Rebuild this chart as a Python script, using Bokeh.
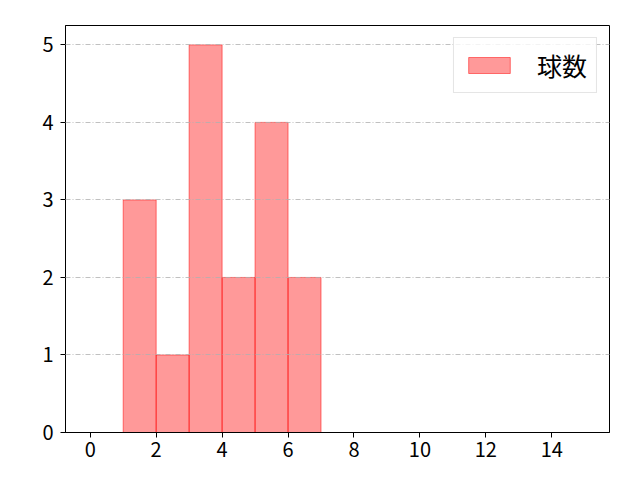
from bokeh.plotting import figure
from bokeh.models import ColumnDataSource, FixedTicker, Range1d, Legend, LegendItem
from bokeh.embed import file_html
from bokeh.resources import INLINE

# data
bin_left = [1, 2, 3, 4, 5, 6]
bin_right = [2, 3, 4, 5, 6, 7]
counts = [3, 1, 5, 2, 4, 2]
series_name = "球数"
x_ticks = [0, 2, 4, 6, 8, 10, 12, 14]
y_ticks = [0, 1, 2, 3, 4, 5]

FONT = "Noto Sans CJK JP"

p = figure(width=624, height=464, output_backend="svg", toolbar_location=None,
           x_range=Range1d(-0.75, 15.75), y_range=Range1d(0, 5.25),
           min_border_left=65, min_border_top=25, min_border_right=15, min_border_bottom=32)

src = ColumnDataSource(dict(left=bin_left, right=bin_right, top=counts, bottom=[0]*len(counts)))
r = p.quad(left="left", right="right", top="top", bottom="bottom", source=src,
           fill_color="red", fill_alpha=0.4, line_color="red", line_alpha=0.5, line_width=1)

p.xgrid.visible = False
p.ygrid.grid_line_color = "#b0b0b0"
p.ygrid.grid_line_dash = "5 2 1 2"
p.ygrid.grid_line_width = 0.8
p.ygrid.level = "annotation"

for ax in (p.xaxis[0], p.yaxis[0]):
    ax.major_label_text_font = FONT
    ax.major_label_text_font_size = "20px"
    ax.major_label_text_color = "black"
    ax.axis_line_color = "black"
    ax.major_tick_line_color = "black"
    ax.major_tick_out = 5
    ax.major_tick_in = 0
    ax.minor_tick_line_color = None
p.xaxis[0].ticker = FixedTicker(ticks=x_ticks)
p.yaxis[0].ticker = FixedTicker(ticks=y_ticks)
p.xaxis[0].major_label_standoff = 4
p.yaxis[0].major_label_standoff = 7

p.outline_line_color = "black"
p.outline_line_alpha = 1
p.outline_line_width = 1

legend = Legend(items=[LegendItem(label=series_name, renderers=[r])], location="top_right")
legend.label_text_font = FONT
legend.label_text_font_size = "25px"
legend.label_text_color = "black"
legend.glyph_width = 52
legend.glyph_height = 20
legend.label_standoff = 22
legend.padding = 9
legend.margin = 12
legend.border_line_color = "#cccccc"
legend.border_line_width = 1
legend.background_fill_alpha = 0.8
p.add_layout(legend)

open("out.html", "w").write(file_html(p, INLINE))
